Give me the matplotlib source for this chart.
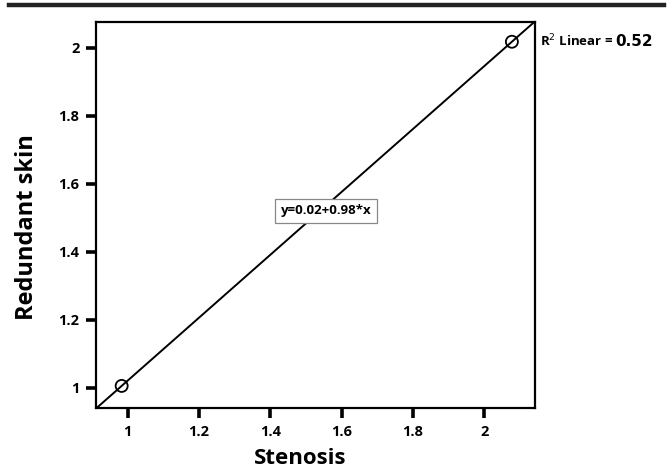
import numpy as np, matplotlib
matplotlib.use('Agg')
import matplotlib.pyplot as plt

plt.rcParams['font.family'] = ['Open Sans', 'DejaVu Sans']

# data
stenosis = [0.983, 2.078]
redundant = [1.005, 2.018]
eq_intercept, eq_slope = 0.02, 0.98   # as printed on the chart
r2 = 0.52
xticks = [1, 1.2, 1.4, 1.6, 1.8, 2]
yticks = [1, 1.2, 1.4, 1.6, 1.8, 2]

W, H = 672, 467
fig = plt.figure(figsize=(W/100, H/100), dpi=100)
ax = fig.add_axes([96/W, 59/H, 438.7/W, 386.3/H])

# thick rule across the top of the figure
fig.add_artist(plt.Line2D([9/W, 664/W], [1 - 4.5/H]*2, color='#222222', lw=3.2,
                          transform=fig.transFigure))

xlim = (0.911, 2.142); ylim = (0.94, 2.077)
# fit line drawn through the plotted points
b, a = np.polyfit(stenosis, redundant, 1)
xs = np.array(xlim)
ax.plot(xs, a + b*xs, color='black', lw=1.4, zorder=3)
ax.scatter(stenosis, redundant, s=75, facecolors='none', edgecolors='black', lw=1.3, zorder=4)
ax.set_xlim(*xlim); ax.set_ylim(*ylim)

ax.set_xticks(xticks); ax.set_yticks(yticks)
ax.set_xticklabels([f'{t:g}' for t in xticks], fontweight='bold', fontsize=10.5)
ax.set_yticklabels([f'{t:g}' for t in yticks], fontweight='bold', fontsize=10.5)
ax.tick_params(direction='out', length=7, width=2.6, pad=5, color='black')
for s in ax.spines.values():
    s.set_linewidth(1.6)

fig.text(300/W, 1 - 458/H, 'Stenosis', fontsize=16, fontweight='bold', ha='center', va='center')
fig.text(27/W, 1 - 227/H, 'Redundant skin', fontsize=17, fontweight='bold',
         rotation=90, ha='center', va='center')

ax.text(1.557, 1.52, f'y={eq_intercept:.2f}+{eq_slope:.2f}*x', ha='center', va='center',
        fontsize=9.5, fontweight='bold', zorder=5,
        bbox=dict(boxstyle='square,pad=0.45', facecolor='white', edgecolor='#888888', lw=0.9))

fig.text(540/W, 1 - 41/H, r'R$^{2}$ Linear =', fontsize=9.5, fontweight='bold',
         ha='left', va='center')
fig.text(615/W, 1 - 41/H, f'{r2:.2f}', fontsize=11, fontweight='bold',
         ha='left', va='center', family='DejaVu Sans')

fig.savefig('out.png', dpi=100)
